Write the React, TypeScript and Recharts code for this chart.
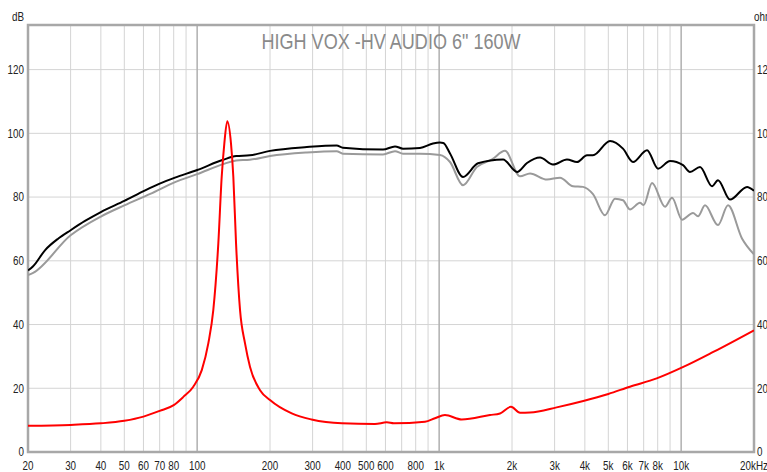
import React from 'react';
import {
  ComposedChart,
  Line,
  XAxis,
  YAxis,
  CartesianGrid,
  ReferenceLine,
  ReferenceArea,
} from 'recharts';

// ---- data ----
const blackFreq = [20, 21, 23.5, 26.7, 30, 34.4, 40, 50, 61, 70, 81, 100, 128, 145, 165, 200, 284, 377, 400, 586, 657, 709, 833, 943, 1008, 1040, 1109, 1255, 1447, 1836, 2098, 2307, 2611, 2954, 3375, 3712, 4083, 4322, 5082, 5749, 6325, 7228, 8025, 8995, 10181, 10877, 11967, 13412, 14199, 15917, 18712, 20000];
const blackDb = [57.0, 58.3, 63.3, 67.0, 69.6, 72.5, 75.3, 78.8, 82.1, 84.2, 86.1, 88.5, 91.7, 92.9, 93.1, 94.5, 95.7, 96.2, 95.5, 94.9, 95.9, 95.2, 95.4, 96.8, 97.1, 97.0, 93.7, 86.3, 90.6, 91.8, 87.9, 90.7, 92.4, 90.2, 91.8, 91.0, 93.1, 93.1, 97.6, 95.2, 91.0, 94.7, 88.9, 91.3, 90.0, 87.9, 89.4, 83.4, 85.3, 79.2, 83.2, 82.0];

const grayFreq = [20, 21, 30, 40, 50, 64, 81, 100, 130, 145, 165, 200, 284, 377, 400, 586, 657, 709, 833, 1008, 1109, 1255, 1430, 1654, 1871, 2159, 2374, 2790, 3157, 3573, 3930, 4322, 4845, 5329, 5749, 6143, 6760, 7000, 7580, 8578, 9168, 10086, 11194, 11741, 12548, 14199, 15617, 17840, 20000];
const grayDb = [55.5, 56.2, 68.0, 73.9, 77.4, 81.0, 84.7, 87.2, 90.5, 91.5, 91.7, 92.9, 94.0, 94.4, 93.6, 93.4, 94.4, 93.6, 93.6, 93.2, 91.0, 83.7, 89.4, 91.8, 94.5, 86.5, 87.4, 85.5, 86.1, 83.4, 83.2, 80.9, 74.3, 79.5, 79.0, 76.1, 78.2, 77.5, 84.4, 77.0, 79.8, 72.9, 75.0, 74.0, 77.4, 71.2, 77.4, 67.0, 62.0];

const redFreq = [20, 30, 40, 50, 60, 70, 80, 87.7, 96.4, 104.5, 111.2, 116.6, 122.3, 126.3, 129.5, 133.2, 138, 141.1, 144.8, 150.4, 157.7, 165.4, 181.9, 200, 246, 297, 396, 543, 607, 650, 874, 961, 1057, 1239, 1622, 1784, 1981, 2159, 2374, 3059, 3941, 5001, 6143, 7924, 10208, 13579, 20000];
const redOhm = [8.2, 8.5, 9.0, 9.8, 11.1, 12.9, 14.7, 17.3, 20.5, 25.7, 34.1, 44.5, 65.4, 86.3, 96.8, 103.8, 96.8, 86.3, 65.4, 44.5, 34.1, 26.7, 19.4, 16.3, 12.1, 10.2, 9.0, 8.8, 9.3, 9.0, 9.5, 10.6, 11.6, 10.2, 11.6, 12.1, 14.2, 12.3, 12.4, 14.0, 16.0, 18.2, 20.5, 23.1, 26.7, 31.4, 38.2];

const gridFreqs = [20, 30, 40, 50, 60, 70, 80, 90, 100, 200, 300, 400, 500, 600, 700, 800, 900, 1000, 2000, 3000, 4000, 5000, 6000, 7000, 8000, 9000, 10000, 20000];
const freqLabels = ['20', '30', '40', '50', '60', '70', '80', '', '100', '200', '300', '400', '500', '600', '', '800', '', '1k', '2k', '3k', '4k', '5k', '6k', '7k', '8k', '', '10k', '20kHz'];
const majorFreqs = [100, 1000, 10000];
const yTicks = [0, 20, 40, 60, 80, 100, 120];

const TITLE = 'HIGH VOX -HV AUDIO 6" 160W';

const toRows = (fs: number[], vs: number[]) => fs.map((f, i) => ({ f, v: vs[i] }));
const blackData = toRows(blackFreq, blackDb);
const grayData = toRows(grayFreq, grayDb);
const redData = toRows(redFreq, redOhm);

const FONT = "'Liberation Sans', Arial, sans-serif";
const NARROW = 0.82;
const TICK_COLOR = '#222';

const XTick = (props: any) => {
  const { x, y, payload } = props;
  const i = gridFreqs.indexOf(payload.value);
  const label = i >= 0 ? freqLabels[i] : '';
  if (!label) return null;
  return (
    <g transform={`translate(${x},${y})`}>
      <text transform={`scale(${NARROW},1)`} x={0} y={0} dy="0.71em" textAnchor="middle" fontSize={12} fontFamily={FONT} fill={TICK_COLOR}>
        {label}
      </text>
    </g>
  );
};

const makeYTick = (anchor: 'start' | 'end') => (props: any) => {
  const { x, y, payload } = props;
  return (
    <g transform={`translate(${x},${y})`}>
      <text transform={`scale(${NARROW},1)`} x={0} y={0} dy="0.355em" textAnchor={anchor} fontSize={12} fontFamily={FONT} fill={TICK_COLOR}>
        {String(payload.value)}
      </text>
    </g>
  );
};
const LeftTick = makeYTick('end');
const RightTick = makeYTick('start');

export default function App() {
  return (
    <div
      style={{
        position: 'absolute',
        left: 0,
        top: 0,
        width: 767,
        height: 472,
        overflow: 'hidden',
        background: '#fff',
        fontFamily: FONT,
      }}
    >
      <ComposedChart width={767} height={472} margin={{ top: 25, right: 0, bottom: 0, left: 0 }}>
        <CartesianGrid yAxisId="left" stroke="#d4d4d4" strokeWidth={1} />
        <XAxis
          dataKey="f"
          type="number"
          scale="log"
          domain={[20, 20000]}
          allowDataOverflow
          ticks={gridFreqs}
          interval={0}
          axisLine={false}
          tickLine={false}
          tickSize={0}
          tickMargin={9}
          height={20}
          tick={<XTick />}
        />
        <YAxis
          yAxisId="left"
          orientation="left"
          type="number"
          domain={[0, 134]}
          allowDataOverflow
          ticks={yTicks}
          interval={0}
          axisLine={false}
          tickLine={false}
          tickSize={0}
          tickMargin={4}
          width={28}
          tick={<LeftTick />}
        />
        <YAxis
          yAxisId="right"
          orientation="right"
          type="number"
          domain={[0, 134]}
          allowDataOverflow
          ticks={yTicks}
          interval={0}
          axisLine={false}
          tickLine={false}
          tickSize={0}
          tickMargin={3}
          width={13}
          tick={<RightTick />}
        />
        {majorFreqs.map((f) => (
          <ReferenceLine key={f} x={f} yAxisId="left" stroke="#a8a8a8" strokeWidth={1.2} />
        ))}
        <ReferenceArea
          yAxisId="left"
          x1={20}
          x2={20000}
          y1={0}
          y2={134}
          fill="none"
          fillOpacity={0}
          stroke="#a8a8a8"
          strokeWidth={2.5}
        />
        <Line
          yAxisId="left"
          data={grayData}
          dataKey="v"
          type="monotone"
          stroke="#9a9a9a"
          strokeWidth={2}
          dot={false}
          isAnimationActive={false}
        />
        <Line
          yAxisId="left"
          data={blackData}
          dataKey="v"
          type="monotone"
          stroke="#000"
          strokeWidth={2}
          dot={false}
          isAnimationActive={false}
        />
        <Line
          yAxisId="right"
          data={redData}
          dataKey="v"
          type="monotone"
          stroke="#ff0000"
          strokeWidth={2}
          dot={false}
          isAnimationActive={false}
        />
      </ComposedChart>
      <div
        style={{
          position: 'absolute',
          left: 391,
          top: 31,
          transform: `translateX(-50%) scaleX(${NARROW})`,
          whiteSpace: 'nowrap',
          fontSize: 22,
          lineHeight: '22px',
          color: '#8a8a8a',
        }}
      >
        {TITLE}
      </div>
      <div
        style={{
          position: 'absolute',
          left: 24,
          top: 11,
          transform: `translateX(-100%) scaleX(${NARROW})`,
          transformOrigin: 'right center',
          fontSize: 12,
          lineHeight: '12px',
          color: TICK_COLOR,
        }}
      >
        dB
      </div>
      <div
        style={{
          position: 'absolute',
          left: 754,
          top: 11,
          transform: `scaleX(${NARROW})`,
          transformOrigin: 'left center',
          fontSize: 12,
          lineHeight: '12px',
          color: TICK_COLOR,
          whiteSpace: 'nowrap',
        }}
      >
        ohm
      </div>
    </div>
  );
}
